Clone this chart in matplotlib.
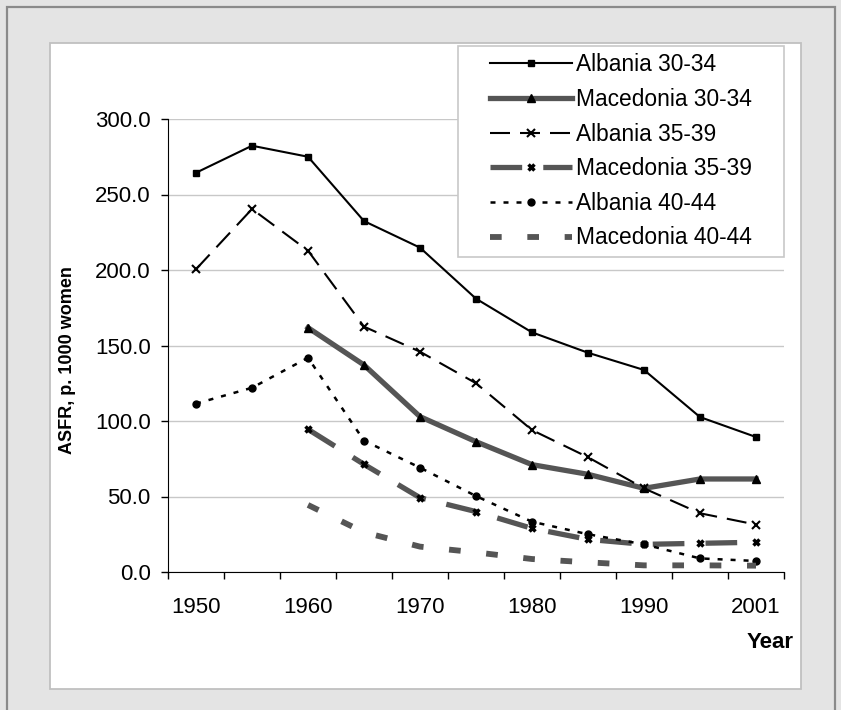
import numpy as np
import matplotlib
matplotlib.use("Agg")
from matplotlib import pyplot as plt
from matplotlib.patches import Rectangle

plt.rcParams['font.family'] = ['Liberation Sans', 'DejaVu Sans']

# data (ASFR per 1000 women)
years = ['1950', '1955', '1960', '1965', '1970', '1975', '1980', '1985', '1990', '1995', '2001']
nan = np.nan
alb_30 = [264.4, 282.3, 275.0, 232.4, 214.8, 181.0, 158.7, 145.2, 133.8, 102.6, 89.4]
mac_30 = [nan, nan, 161.8, 137.1, 102.9, 86.3, 71.1, 64.7, 55.4, 61.6, 61.6]
alb_35 = [200.5, 240.4, 212.8, 162.5, 145.9, 125.0, 94.0, 76.0, 55.4, 38.9, 31.4]
mac_35 = [nan, nan, 94.5, 71.3, 49.2, 40.0, 28.9, 21.6, 18.3, 19.0, 19.7]
alb_40 = [111.5, 122.0, 141.9, 87.0, 69.1, 50.3, 33.3, 25.0, 18.3, 9.0, 7.3]
mac_40 = [nan, nan, 44.4, 26.3, 16.8, 13.0, 8.6, 6.4, 4.4, 4.4, 4.2]

W, H = 841, 710
def fx(x): return x / W
def fy(y): return 1 - y / H

fig = plt.figure(figsize=(W / 100, H / 100), dpi=100)
fig.patch.set_facecolor('#e4e4e4')

# outer frame and white panel
fig.add_artist(Rectangle((fx(7), fy(730)), fx(828), (730 - 7) / H, transform=fig.transFigure,
                         fill=False, edgecolor='#8a8a8a', lw=1.6, zorder=-10))
fig.add_artist(Rectangle((fx(50), fy(689)), fx(751), (689 - 43) / H, transform=fig.transFigure,
                         facecolor='white', edgecolor='#c0c0c0', lw=1.3, zorder=-9))

ax = fig.add_axes([fx(168), fy(572), fx(784 - 168), (572 - 119) / H])
ax.set_facecolor('none')

x = np.arange(len(years))
gray = '#555555'

ax.plot(x, alb_30, color='black', lw=1.5, marker='s', ms=5, label='Albania 30-34')
ax.plot(x, mac_30, color=gray, lw=3.8, marker='^', ms=6, mfc='black', mec='black',
        label='Macedonia 30-34')
ax.plot(x, alb_35, color='black', lw=1.5, dashes=(9.6, 4.8), marker='x', ms=6, mew=1.5,
        mec='black', label='Albania 35-39')
ax.plot(x, mac_35, color=gray, lw=3.8, dashes=(6, 4), dash_capstyle='butt', marker='x', ms=5,
        mew=2.5, mec='black', label='Macedonia 35-39')
ax.plot(x, alb_40, color='black', lw=1.8, dashes=(2, 3.2), marker='o', ms=5,
        label='Albania 40-44')
ax.plot(x, mac_40, color=gray, lw=4.2, dashes=(2, 4.4), dash_capstyle='butt',
        label='Macedonia 40-44')

ax.set_xlim(-0.5, 10.5)
ax.set_ylim(0, 300)
ax.set_xticks(np.arange(-0.5, 11, 1))
ax.set_xticklabels([])
ax.set_xticks(x[::2], labels=years[::2], minor=True)
ax.tick_params(axis='x', which='major', length=5, width=1, direction='out')
ax.tick_params(axis='x', which='minor', length=0, pad=18, labelsize=16)
ax.set_yticks(np.arange(0, 301, 50))
ax.set_yticklabels(['%.1f' % v for v in np.arange(0, 301, 50)])
ax.tick_params(axis='y', length=5, width=1, direction='out', pad=7.5, labelsize=16)
ax.yaxis.grid(True, color='#c8c8c8', lw=1)
ax.set_axisbelow(True)
for s in ['top', 'right']:
    ax.spines[s].set_visible(False)

fig.text(fx(68), fy(360), 'ASFR, p. 1000 women', rotation=90, fontsize=13, fontweight='bold',
         ha='center', va='center')
fig.text(fx(794), fy(643), 'Year', fontsize=16, fontweight='bold', ha='right', va='center')

# legend box
ax.add_patch(Rectangle((fx(458), fy(257)), fx(784 - 458), (257 - 46) / H, transform=fig.transFigure,
                       facecolor='white', edgecolor='#c8c8c8', lw=1.2, clip_on=False, zorder=4))
leg = ax.legend(loc='upper left', bbox_to_anchor=(fx(479), fy(42)), bbox_transform=fig.transFigure,
                frameon=False, fontsize=16.4, handlelength=3.6, handletextpad=0.15,
                labelspacing=0.51, borderpad=0, numpoints=1)
leg.set_zorder(5)

fig.savefig('out.png', dpi=100, facecolor=fig.get_facecolor())
